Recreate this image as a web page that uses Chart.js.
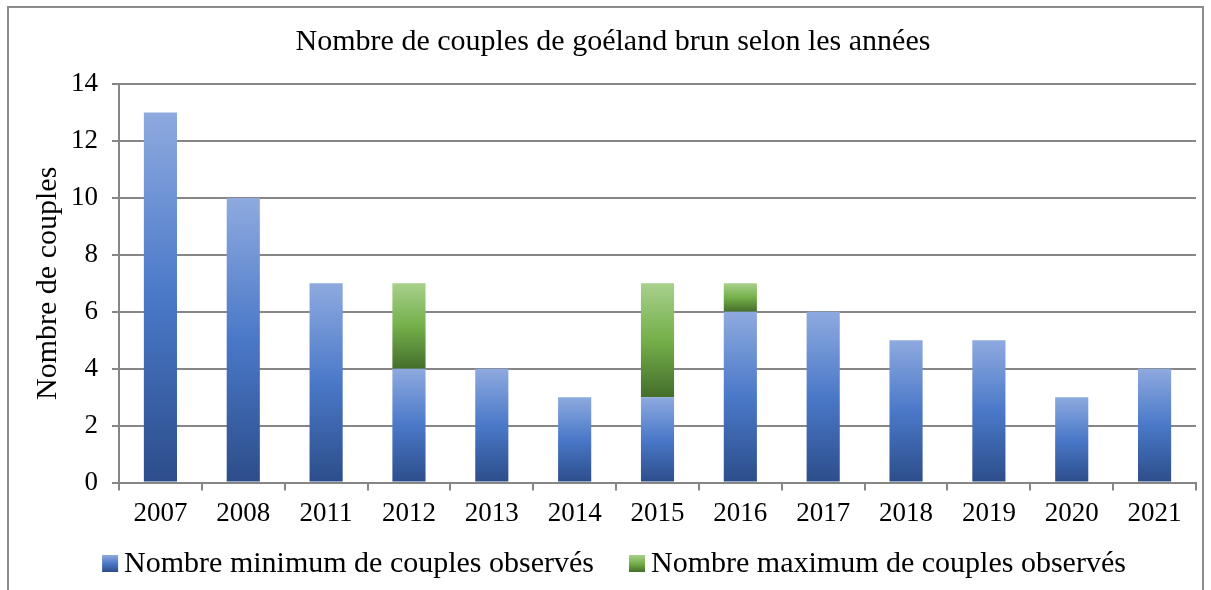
<!DOCTYPE html>
<html>
<head>
<meta charset="utf-8">
<script src="https://cdn.jsdelivr.net/npm/chart.js@4"></script>
<style>
  html, body { margin: 0; padding: 0; background: #fff; }
  #wrap { position: relative; width: 1211px; height: 590px; overflow: hidden; }
  #frame { position: absolute; left: 7px; top: 6px; width: 1197px; height: 620px; border: 2px solid #8c8c8c; box-sizing: border-box; }
  #chart { position: absolute; left: 0; top: 0; }
</style>
</head>
<body>
<div id="wrap">
  <div id="frame"></div>
  <canvas id="chart" width="1211" height="590"></canvas>
</div>
<script>
// --- données ---
const annees = ['2007', '2008', '2011', '2012', '2013', '2014', '2015', '2016', '2017', '2018', '2019', '2020', '2021'];
const minCouples = [13, 10, 7, 4, 4, 3, 3, 6, 6, 5, 5, 3, 4];
const maxCouples = [null, null, null, 7, null, null, 7, 7, null, null, null, null, null];
const yTicks = [0, 2, 4, 6, 8, 10, 12, 14];

// partie verte = écart entre max et min
const ecart = maxCouples.map((v, i) => v === null ? null : v - minCouples[i]);

const serif = "'Liberation Serif', 'Times New Roman', serif";
const gris = '#868686';

function degrade(ctx, top, bottom, couleurs) {
  const g = ctx.createLinearGradient(0, top, 0, bottom);
  g.addColorStop(0, couleurs[0]);
  g.addColorStop(0.5, couleurs[1]);
  g.addColorStop(1, couleurs[2]);
  return g;
}
const bleu = ['#8eaadf', '#4a78c8', '#2c4d8a'];
const vert = ['#a8d08d', '#74b04a', '#446e2b'];

function couleurBarre(context, serie) {
  const chart = context.chart;
  const y = chart.scales.y;
  if (!chart.chartArea || !y || context.dataIndex === undefined) {
    return serie === 0 ? bleu[1] : vert[1];
  }
  const i = context.dataIndex;
  if (serie === 0) {
    return degrade(chart.ctx, y.getPixelForValue(minCouples[i]), y.getPixelForValue(0), bleu);
  }
  return degrade(chart.ctx, y.getPixelForValue(maxCouples[i] || 0), y.getPixelForValue(minCouples[i]), vert);
}

// légende dessinée à la main (carrés en dégradé, texte collé au carré)
const legendeMaison = {
  id: 'legendeMaison',
  afterDraw(chart) {
    const ctx = chart.ctx;
    const items = chart.data.datasets.map((d, i) => ({ texte: d.label, couleurs: i === 0 ? bleu : vert }));
    ctx.save();
    ctx.font = '30px ' + serif;
    ctx.textBaseline = 'middle';
    ctx.fillStyle = '#000';
    const carre = 16, ecartTexte = 6, ecartItems = 35;
    const largeurs = items.map(it => ctx.measureText(it.texte).width);
    let total = 0;
    largeurs.forEach((w, i) => { total += carre + ecartTexte + w + (i > 0 ? ecartItems : 0); });
    let x = 614 - total / 2;
    const yMid = 563;
    items.forEach((it, i) => {
      ctx.fillStyle = degrade(ctx, yMid - 8, yMid + 9, it.couleurs);
      ctx.fillRect(x, yMid - 8, carre, 17);
      x += carre + ecartTexte;
      ctx.fillStyle = '#000';
      ctx.fillText(it.texte, x, yMid + 1);
      x += largeurs[i] + ecartItems;
    });
    ctx.restore();
  }
};

new Chart(document.getElementById('chart'), {
  type: 'bar',
  data: {
    labels: annees,
    datasets: [
      {
        label: 'Nombre minimum de couples observés',
        data: minCouples,
        backgroundColor: (c) => couleurBarre(c, 0),
        barPercentage: 0.8,
        categoryPercentage: 0.5
      },
      {
        label: 'Nombre maximum de couples observés',
        data: ecart,
        backgroundColor: (c) => couleurBarre(c, 1),
        barPercentage: 0.8,
        categoryPercentage: 0.5
      }
    ]
  },
  plugins: [legendeMaison],
  options: {
    responsive: false,
    animation: false,
    devicePixelRatio: 1,
    layout: { padding: { left: 30, right: 15, top: 12, bottom: 53 } },
    scales: {
      x: {
        stacked: true,
        offset: true,
        grid: { display: true, drawOnChartArea: false, offset: true, color: gris, lineWidth: 2, tickLength: 8 },
        border: { display: true, color: gris, width: 2 },
        ticks: { color: '#000', font: { family: serif, size: 27 }, padding: 7 }
      },
      y: {
        stacked: true,
        min: 0,
        max: 14,
        afterBuildTicks: (axis) => { axis.ticks = yTicks.map(v => ({ value: v })); },
        grid: { color: gris, lineWidth: 2, tickLength: 7 },
        border: { display: true, color: gris, width: 2 },
        ticks: { color: '#000', font: { family: serif, size: 27 }, padding: 14 },
        title: {
          display: true,
          text: 'Nombre de couples',
          color: '#000',
          font: { family: serif, size: 30 },
          padding: { top: 0, bottom: -9 }
        }
      }
    },
    plugins: {
      title: {
        display: true,
        text: 'Nombre de couples de goéland brun selon les années',
        color: '#000',
        font: { family: serif, size: 30, weight: 'normal' },
        padding: { top: 12, bottom: 24 }
      },
      legend: { display: false },
      tooltip: { enabled: false }
    }
  }
});
</script>
</body>
</html>
